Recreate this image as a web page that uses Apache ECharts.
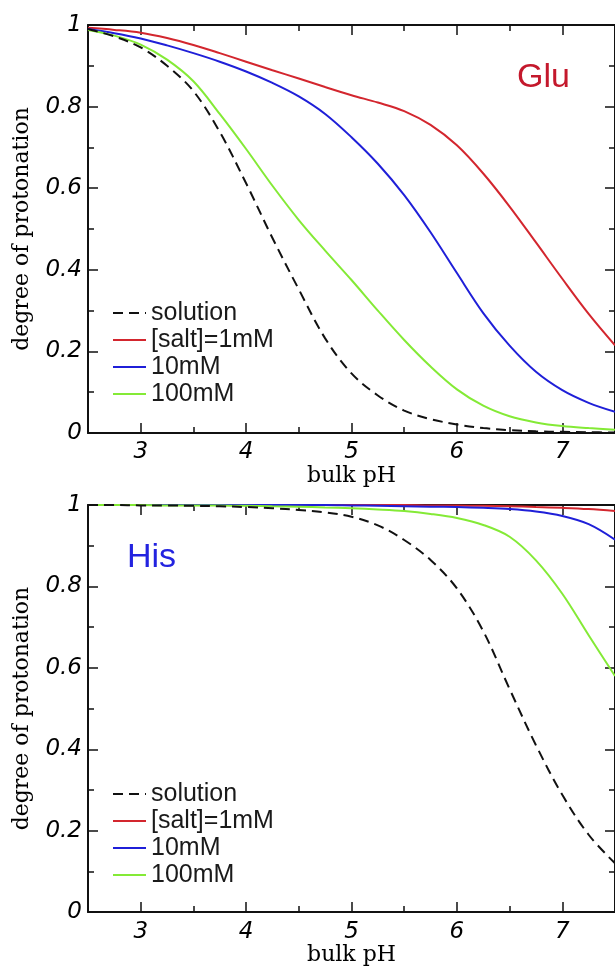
<!DOCTYPE html>
<html><head><meta charset="utf-8">
<script src="https://cdn.jsdelivr.net/npm/echarts@6/dist/echarts.min.js"></script>
<style>html,body{margin:0;padding:0;background:#fff}#c{width:615px;height:967px}</style>
</head><body><div id="c"></div>
<script>
// ---- data ----
const pH = [2.5,2.75,3.0,3.25,3.5,3.75,4.0,4.25,4.5,4.75,5.0,5.25,5.5,5.75,6.0,6.25,6.5,6.75,7.0,7.25,7.5];

const gluSolution = [0.990,0.972,0.945,0.900,0.838,0.738,0.612,0.478,0.352,0.232,0.146,0.092,0.055,0.034,0.021,0.012,0.007,0.004,0.003,0.002,0.001];
const glu1mM      = [0.993,0.988,0.981,0.968,0.951,0.931,0.910,0.889,0.869,0.848,0.828,0.810,0.789,0.755,0.705,0.636,0.555,0.467,0.378,0.292,0.215];
const glu10mM     = [0.990,0.980,0.967,0.950,0.931,0.910,0.886,0.858,0.825,0.782,0.725,0.660,0.583,0.492,0.392,0.294,0.214,0.150,0.105,0.074,0.052];
const glu100mM    = [0.988,0.974,0.952,0.915,0.862,0.782,0.696,0.606,0.522,0.447,0.375,0.300,0.228,0.163,0.107,0.067,0.041,0.026,0.017,0.012,0.008];

const hisSolution = [1.000,1.000,0.999,0.999,0.998,0.997,0.995,0.992,0.988,0.982,0.971,0.950,0.914,0.865,0.795,0.690,0.548,0.410,0.288,0.190,0.120];
const his1mM      = [1.000,1.000,1.000,1.000,1.000,1.000,1.000,1.000,1.000,1.000,1.000,1.000,1.000,0.999,0.999,0.998,0.997,0.995,0.993,0.990,0.985];
const his10mM     = [1.000,1.000,1.000,1.000,1.000,1.000,1.000,1.000,1.000,1.000,0.999,0.998,0.997,0.996,0.995,0.993,0.990,0.984,0.973,0.953,0.915];
const his100mM    = [1.000,1.000,1.000,0.999,0.999,0.999,0.998,0.997,0.996,0.994,0.992,0.989,0.985,0.978,0.968,0.951,0.922,0.864,0.782,0.680,0.580];

const seriesNames = ['solution','[salt]=1mM','10mM','100mM'];
const panelLabels = ['Glu','His'];
const xMajorTicks = [3,4,5,6,7];
const xMinorTicks = [3.5,4.5,5.5,6.5];
const xName = 'bulk pH';
const yName = 'degree of protonation';

// ---- styles ----
const colors = ['#111111','#d3262e','#1f1fd8','#84ea36'];
const axisColor = '#111111';
const grids = [
  {left: 88, top: 25, width: 534, height: 408},
  {left: 88, top: 505, width: 534, height: 409}
];
const tickFont = {fontFamily: 'DejaVu Sans', fontStyle: 'italic', fontSize: 23, color: '#000'};
const nameFont = {fontFamily: 'DejaVu Serif', fontSize: 22, color: '#000'};

const xAxis = [], yAxis = [], series = [];
grids.forEach((g, gi) => {
  const base = {type: 'value', gridIndex: gi, min: 2.5, max: 7.5, splitLine: {show: false}};
  xAxis.push(Object.assign({}, base, {
    position: 'bottom',
    axisLine: {show: true, lineStyle: {color: axisColor, width: 2}},
    axisTick: {show: true, inside: true, length: 10, customValues: xMajorTicks, lineStyle: {color: axisColor, width: 1.5}},
    axisLabel: Object.assign({show: true, margin: 8, customValues: xMajorTicks}, tickFont),
    name: xName, nameLocation: 'middle', nameGap: 24, nameTextStyle: nameFont
  }));
  xAxis.push(Object.assign({}, base, {
    position: 'bottom', axisLine: {show: false},
    axisTick: {show: true, inside: true, length: 6, customValues: xMinorTicks, lineStyle: {color: axisColor, width: 1.5}},
    axisLabel: {show: false}
  }));
  xAxis.push(Object.assign({}, base, {
    position: 'top',
    axisLine: {show: true, lineStyle: {color: axisColor, width: 2}},
    axisTick: {show: true, inside: true, length: 10, customValues: xMajorTicks, lineStyle: {color: axisColor, width: 1.5}},
    axisLabel: {show: false}
  }));
  xAxis.push(Object.assign({}, base, {
    position: 'top', axisLine: {show: false},
    axisTick: {show: true, inside: true, length: 6, customValues: xMinorTicks, lineStyle: {color: axisColor, width: 1.5}},
    axisLabel: {show: false}
  }));
  const ybase = {type: 'value', gridIndex: gi, min: 0, max: 1, interval: 0.2, splitLine: {show: false},
    axisLine: {show: true, lineStyle: {color: axisColor, width: 2}},
    axisTick: {show: true, inside: true, length: 10, lineStyle: {color: axisColor, width: 1.5}},
    minorTick: {show: true, splitNumber: 2, length: 6, lineStyle: {color: axisColor, width: 1.5}},
    minorSplitLine: {show: false}};
  yAxis.push(Object.assign({}, ybase, {
    position: 'left',
    axisLabel: Object.assign({show: true, margin: 6}, tickFont),
    name: yName, nameLocation: 'middle', nameGap: 55, nameTextStyle: nameFont
  }));
  yAxis.push(Object.assign({}, ybase, {position: 'right', axisLabel: {show: false}}));

  const sets = gi === 0 ? [gluSolution, glu1mM, glu10mM, glu100mM] : [hisSolution, his1mM, his10mM, his100mM];
  sets.forEach((vals, si) => {
    series.push({
      type: 'line', name: seriesNames[si], xAxisIndex: gi * 4, yAxisIndex: gi * 2,
      data: pH.map((x, i) => [x, vals[i]]),
      showSymbol: false, symbol: 'none', smooth: 0.35, animation: false,
      lineStyle: {color: colors[si], width: 2, type: si === 0 ? [10, 6] : 'solid'},
      itemStyle: {color: colors[si]},
      z: si === 0 ? 5 : 3
    });
  });
});

const legendBase = {
  orient: 'vertical', left: 107, itemWidth: 33, itemHeight: 14, itemGap: 1,
  data: seriesNames, selectedMode: false,
  itemStyle: {opacity: 0, borderWidth: 0},
  textStyle: {fontFamily: 'Liberation Sans', fontSize: 25, lineHeight: 26, color: '#1a1a1a', padding: [0, 0, 0, 0]}
};

const chart = echarts.init(document.getElementById('c'), null, {renderer: 'canvas'});
chart.setOption({
  animation: false,
  backgroundColor: '#ffffff',
  grid: grids,
  xAxis: xAxis,
  yAxis: yAxis,
  legend: [
    Object.assign({}, legendBase, {top: 295}),
    Object.assign({}, legendBase, {top: 776})
  ],
  graphic: [
    {type: 'text', left: 517, top: 61, style: {text: panelLabels[0], fill: '#c4182c', font: '34px "Liberation Sans"'}},
    {type: 'text', left: 127, top: 541, style: {text: panelLabels[1], fill: '#2323e0', font: '34px "Liberation Sans"'}}
  ],
  series: series
});
</script>
</body></html>
